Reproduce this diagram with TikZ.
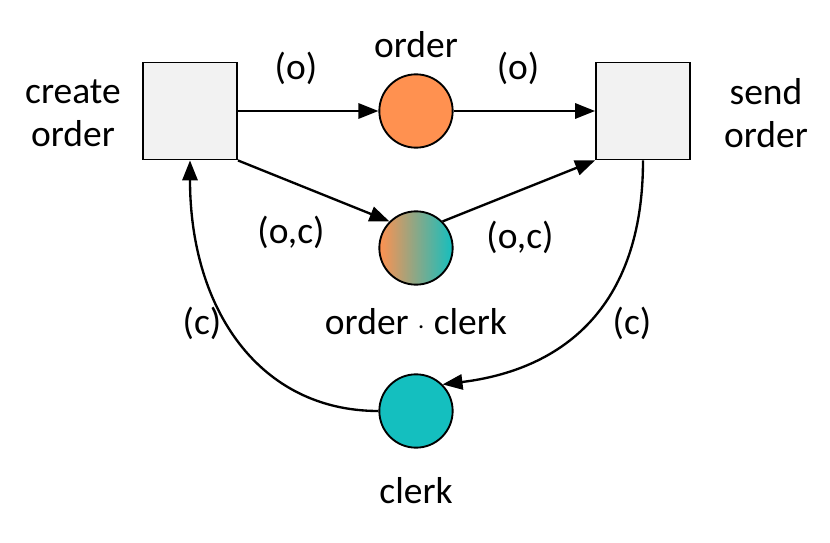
\documentclass[tikz,border=0pt]{standalone}
\usepackage{fontspec}
\setmainfont{Carlito}
\usetikzlibrary{arrows.meta}
\definecolor{org}{HTML}{FF9150}
\definecolor{tea}{HTML}{14BFBF}
\begin{document}
\begin{tikzpicture}[x=0.03cm,y=-0.03cm,
  every node/.style={font=\fontsize{32}{37}\selectfont},
  trans/.style={draw,line width=1.6pt,fill={rgb,255:red,242;green,242;blue,242},minimum width=2.82cm,minimum height=2.91cm,inner sep=0pt},
  place/.style={circle,draw,line width=1.6pt,minimum size=2.2cm,inner sep=0pt},
  arc/.style={line width=2pt,-{Triangle[length=17pt,width=13pt]}},
  lab/.style={align=center}]
\useasboundingbox (0,0) rectangle (830,543);
\node[trans] (co) at (190,111) {};
\node[trans] (so) at (643,111) {};
\node[place,fill=org] (o) at (416,111) {};
\node[place,left color=org,right color=tea] (oc) at (416,248) {};
\node[place,fill=tea] (c) at (416,411) {};
\node[lab] (tco) at (73,113) {create\\order};
\node[lab] (tso) at (766,113) {send\\order};
\node (to) at (416,45) {order};
\node (toc) at (416,322) {order $\cdot$ clerk};
\node (tc) at (416,491) {clerk};
\node (l1) at (296,68) {(o)};
\node (l2) at (518,68) {(o)};
\node (l3) at (291,232) {(o,c)};
\node (l4) at (520,237) {(o,c)};
\node (l5) at (202,323) {(c)};
\node (l6) at (632,323) {(c)};
\draw[arc] (co.east|-o) -- (o.west);
\draw[arc] (o.east) -- (so.west|-o);
\draw[arc] (co.south east) -- (oc.north west);
\draw[arc] (oc.north east) -- (so.south west);
\draw[arc] (so.south) .. controls (643,310) and (560,370) .. (c.north east);
\draw[arc] (c.west) .. controls (260,411) and (190,310) .. (co.south);
\end{tikzpicture}
\end{document}
